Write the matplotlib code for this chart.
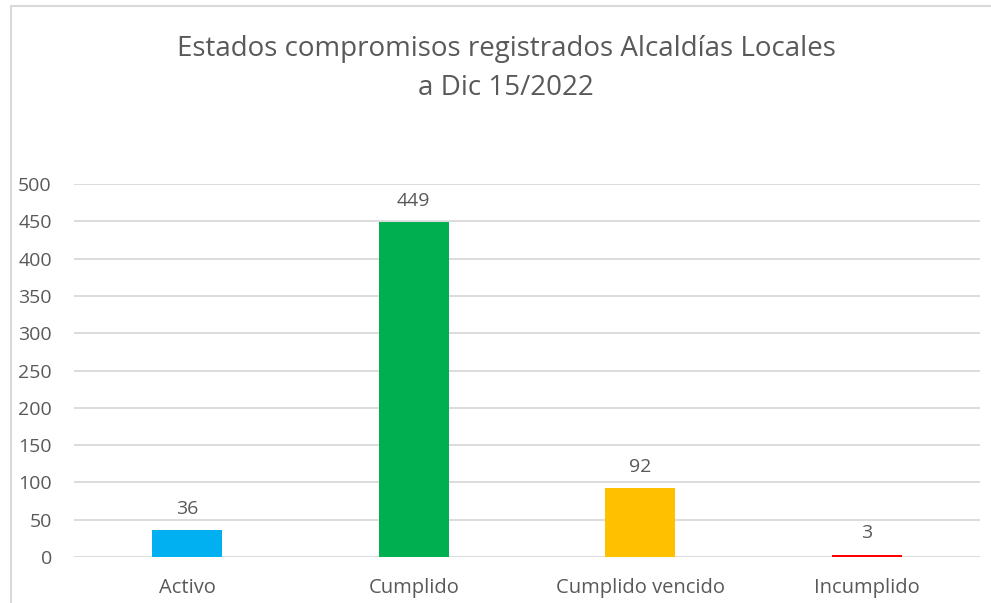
import matplotlib
matplotlib.use("Agg")
import matplotlib.pyplot as plt
from matplotlib.lines import Line2D

categories = ["Activo", "Cumplido", "Cumplido vencido", "Incumplido"]
values = [36, 449, 92, 3]
colors = ["#00B0F0", "#00B050", "#FFC000", "#FF0000"]
yticks = list(range(0, 501, 50))
title = "Estados compromisos registrados Alcaldías Locales\na Dic 15/2022"

plt.rcParams['font.family'] = ['Open Sans', 'DejaVu Sans']
txt = "#595959"
grid = "#D9D9D9"

fig = plt.figure(figsize=(9.91, 6.03), dpi=100)
ax = fig.add_axes([74/991, 1-557/603, (980-74)/991, (557-184)/603])

x = list(range(len(categories)))
bars = ax.bar(x, values, width=0.31, color=colors, zorder=3)
ax.set_xlim(-0.5, len(categories)-0.5)
ax.set_ylim(0, 500)
ax.set_yticks(yticks)
ax.set_xticks(x)
ax.set_xticklabels(categories, fontsize=14.5, color=txt)
ax.tick_params(axis='y', labelsize=14, labelcolor=txt, length=0, pad=16)
ax.tick_params(axis='x', length=0, pad=15)
ax.grid(axis='y', color=grid, linewidth=1.3, zorder=0)
for s in ax.spines.values():
    s.set_visible(False)

for xi, v in zip(x, values):
    ax.annotate(str(v), (xi, v), xytext=(0, 9), textcoords='offset points',
                ha='center', va='bottom', fontsize=14, color=txt)

fig.text(506/991, 1-68.5/603, title, ha='center', va='center', fontsize=20,
         color=txt, linespacing=1.5)

# chart border (top and left edges visible)
fig.add_artist(Line2D([11/991, 1], [1-6/603, 1-6/603], transform=fig.transFigure,
                      color="#D9D9D9", linewidth=1.5))
fig.add_artist(Line2D([11/991, 11/991], [0, 1-6/603], transform=fig.transFigure,
                      color="#D9D9D9", linewidth=1.5))

fig.savefig("out.png", dpi=100, facecolor="white")
